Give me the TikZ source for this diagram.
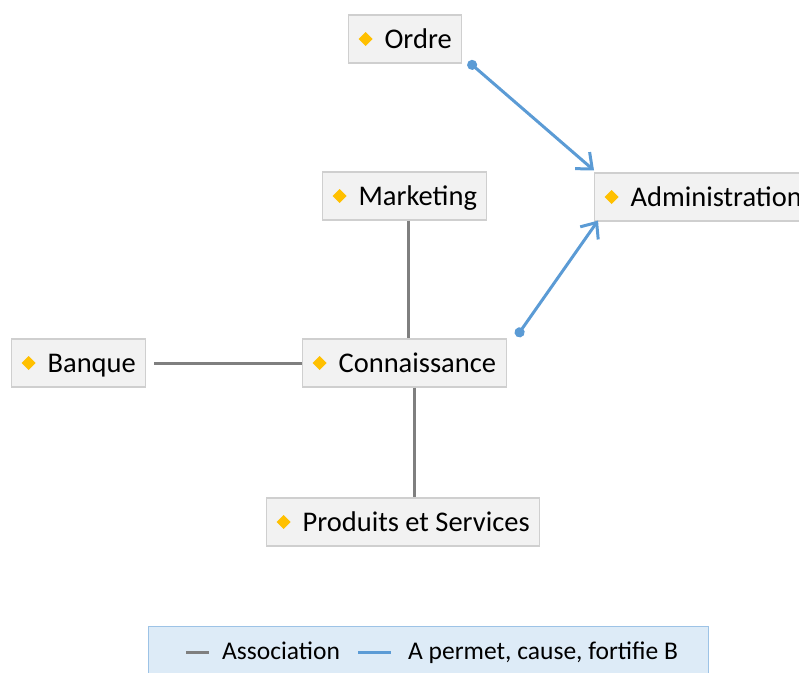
\documentclass[tikz,border=0pt]{standalone}
\usepackage{fontspec}
\setmainfont{Carlito}
\usepackage{tikz}
\usetikzlibrary{positioning,arrows.meta,calc}
\definecolor{boxfill}  {HTML}{F2F2F2}
\definecolor{boxline}  {HTML}{CFCFCF}
\definecolor{gold500}  {HTML}{FFC000}
\definecolor{grey600}  {HTML}{7F7F7F}
\definecolor{blue500}  {HTML}{5B9BD5}
\definecolor{blue100}  {HTML}{DDEBF7}
\definecolor{blue300}  {HTML}{9DC3E6}
\newcommand{\dmd}{\tikz[baseline=0pt]\fill[gold500]
  (0pt,2pt) -- (7pt,9pt) -- (0pt,16pt) -- (-7pt,9pt) -- cycle;}
\tikzset{
  topic/.style  ={draw=boxline, line width=1.2pt, fill=boxfill,
                  anchor=west, inner xsep=10pt, minimum height=48pt,
                  text height=18pt, text depth=0pt,
                  font=\fontsize{28.5}{34}\selectfont},
  assoc/.style  ={draw=grey600, line width=3pt},
  cause/.style  ={{Circle[length=10pt]}-{Straight Barb[length=13pt,width=22pt]},
                  draw=blue500, line width=3pt},
  legbox/.style ={draw=blue300, line width=1.2pt, fill=blue100,
                  anchor=north west, minimum width=560pt, minimum height=80pt},
  legtxt/.style ={anchor=base west, inner sep=0pt,
                  font=\fontsize{25.5}{30}\selectfont}
}
\begin{document}
\begin{tikzpicture}[x=1pt, y=-1pt]
\useasboundingbox (0,0) rectangle (799,672);
\clip (0,0) rectangle (799,672);

% topics
\node[topic] (ordre)  at (348,39)  {\dmd\hspace{12pt}Ordre};
\node[topic] (mkt)    at (322,196) {\dmd\hspace{12pt}Marketing};
\node[topic] (admin)  at (594,197) {\dmd\hspace{12pt}Administration};
\node[topic] (banque) at (11,363)  {\dmd\hspace{12pt}Banque};
\node[topic] (conn)   at (302,363) {\dmd\hspace{12pt}Connaissance};
\node[topic] (prod)   at (266,522) {\dmd\hspace{12pt}Produits et Services};

% links
\draw[assoc] ([xshift=8pt]banque.east) -- (conn.west);
\draw[assoc] ([xshift=4pt]mkt.south) -- ([xshift=4pt]mkt.south |- conn.north);
\draw[assoc] ([xshift=10pt]conn.south) -- ([xshift=10pt]conn.south |- prod.north);
\draw[cause] ([shift={(6,-2)}]ordre.south east) -- ([shift={(0,-2)}]admin.north west);
\draw[cause] ([shift={(10,-2)}]conn.north east) -- ([shift={(4,-1)}]admin.south west);

% legend
\node[legbox] (leg) at (148,626) {};
\coordinate (la) at (186,652);
\coordinate (lb) at (209,652);
\coordinate (lc) at (358,652);
\coordinate (ld) at (391,652);
\draw[assoc] (la) -- (lb);
\draw[draw=blue500, line width=3pt] (lc) -- (ld);
\node[legtxt] (lt1) at (222,659) {Association};
\node[legtxt] (lt2) at (408,659) {A permet, cause, fortifie B};
\end{tikzpicture}
\end{document}
